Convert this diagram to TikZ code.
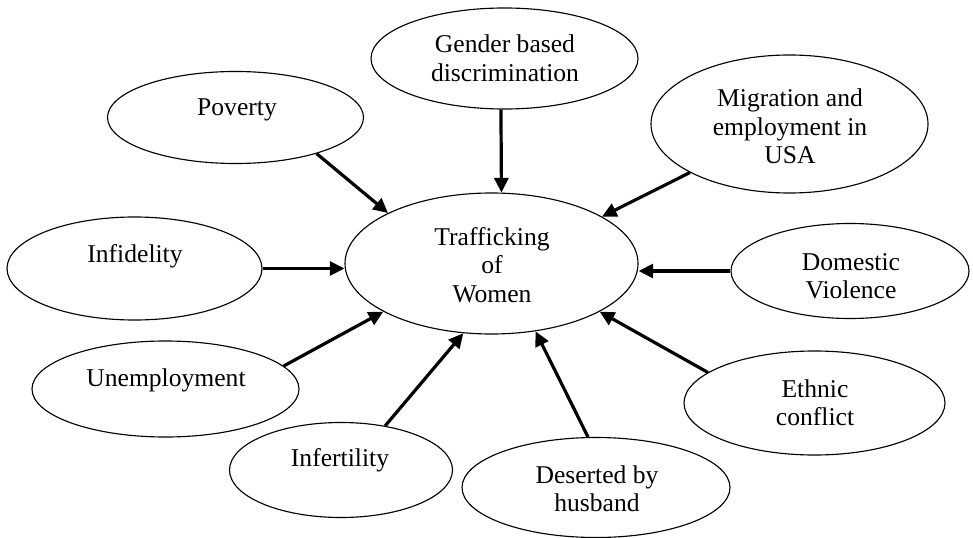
\documentclass[tikz,border=0pt]{standalone}
\usepackage{fontspec}
\setmainfont{Liberation Serif}
\usetikzlibrary{shapes.geometric,arrows.meta}
\begin{document}
\begin{tikzpicture}[x=0.75pt,y=-0.75pt,
  ell/.style={draw, ellipse, inner sep=0pt, line width=0.85pt},
  lbl/.style={anchor=base, inner sep=0pt, font=\fontsize{19.2}{21.4}\selectfont},
  arr/.style={line width=2.4pt, -{Triangle[length=11pt,width=10.5pt]}}]
\useasboundingbox (0,0) rectangle (973,538);
% ellipses (width = 2*rx*0.75pt, height = 2*ry*0.75pt)
\node[ell, minimum width=219.75pt, minimum height=105.75pt] (C) at (491.5,263.5) {};
\node[ell, minimum width=192pt, minimum height=69pt] (P) at (235.5,117.5) {};
\node[ell, minimum width=200.25pt, minimum height=75.75pt] (G) at (504.5,58.5) {};
\node[ell, minimum width=207.75pt, minimum height=103.5pt] (M) at (789.5,124) {};
\node[ell, minimum width=191.25pt, minimum height=77.25pt] (I) at (134.5,268.5) {};
\node[ell, minimum width=178.5pt, minimum height=71.25pt] (D) at (850,271) {};
\node[ell, minimum width=200.25pt, minimum height=72pt] (U) at (165.5,389) {};
\node[ell, minimum width=167.25pt, minimum height=71.25pt] (F) at (341,470) {};
\node[ell, minimum width=201pt, minimum height=75pt] (B) at (596,487.5) {};
\node[ell, minimum width=195.75pt, minimum height=78pt] (E) at (814.5,403) {};
% texts
\node[lbl] (Ct1) at (492,245) {Trafficking};
\node[lbl] (Ct2) at (492,273.5) {of};
\node[lbl] (Ct3) at (492,302) {Women};
\node[lbl] (Pt) at (237,116) {Poverty};
\node[lbl] (Gt1) at (505,53) {Gender based};
\node[lbl] (Gt2) at (505,82) {discrimination};
\node[lbl] (Mt1) at (790,107) {Migration and};
\node[lbl] (Mt2) at (790,135.5) {employment in};
\node[lbl] (Mt3) at (790,164) {USA};
\node[lbl] (It) at (135,262) {Infidelity};
\node[lbl] (Dt1) at (851,270) {Domestic};
\node[lbl] (Dt2) at (851,298.5) {Violence};
\node[lbl] (Ut) at (166,386) {Unemployment};
\node[lbl] (Ft) at (340,466) {Infertility};
\node[lbl] (Bt1) at (597,483) {Deserted by};
\node[lbl] (Bt2) at (597,511.5) {husband};
\node[lbl] (Et1) at (815,397) {Ethnic};
\node[lbl] (Et2) at (815,425.5) {conflict};
% arrows
\draw[arr] (P.-24.7) -- (C.154.5);
\draw[arr] (G.-94) -- (C.82.3);
\draw[arr] (M.206.7) -- (C.23.2);
\draw[arr] (I.east) -- (I.east -| C.west);
\draw[arr] (D.west) -- (D.west -| C.east);
\draw[arr] (U.11.6) -- (C.204);
\draw[arr] (F.45.3) -- (C.248);
\draw[arr] (B.99.2) -- (C.-57);
\draw[arr] (E.164.9) -- (C.-24);
\end{tikzpicture}
\end{document}
